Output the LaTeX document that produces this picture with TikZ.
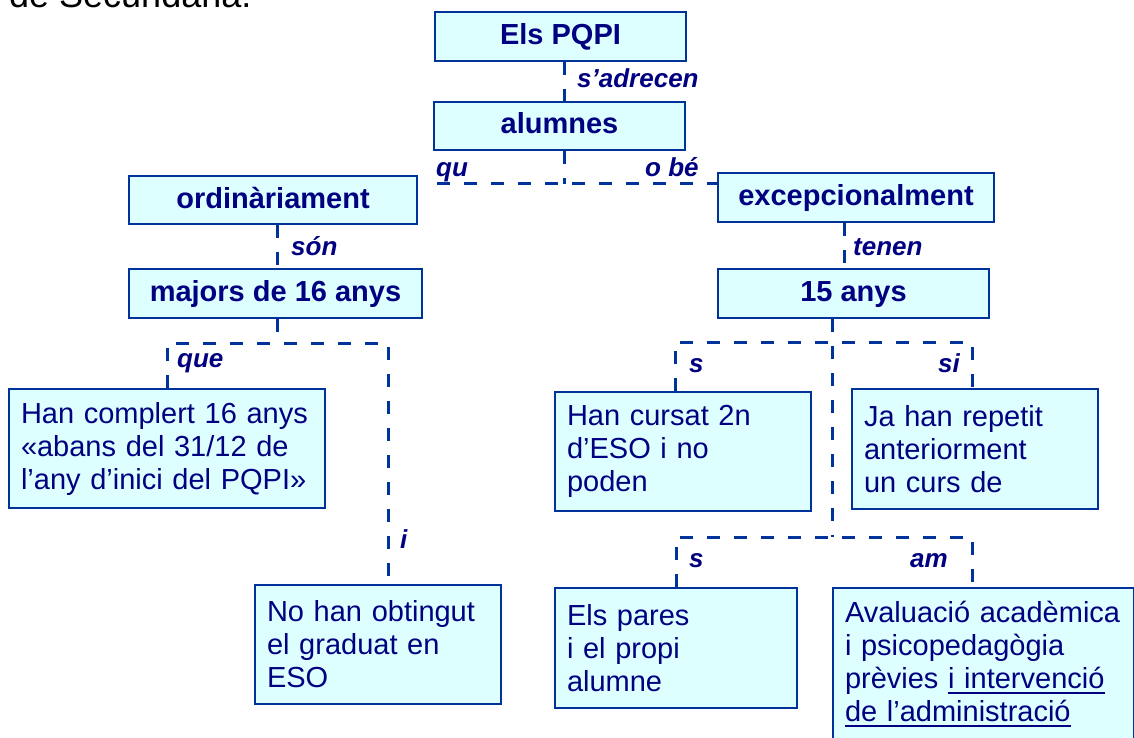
\documentclass[tikz,border=0pt]{standalone}
\usepackage{fontspec}
\setmainfont{Liberation Sans}
\definecolor{navytext}{RGB}{0,0,128}
\definecolor{boxline}{RGB}{0,51,153}
\definecolor{boxfill}{RGB}{221,255,255}
\newcommand\undl[1]{\vtop{\hbox{#1}\kern4pt\hrule height 2pt}}

\begin{document}
\begin{tikzpicture}[x=1pt,y=-1pt,
    head/.style={draw=boxline,line width=2pt,fill=boxfill,text=navytext,
      font=\fontsize{29}{33}\selectfont\bfseries,inner sep=0pt,
      text height=21pt,text depth=5pt},
    body/.style={draw=boxline,line width=2pt,fill=boxfill,text=navytext,
      font=\fontsize{29}{33}\selectfont,align=left,anchor=north west,
      inner xsep=12pt,inner ysep=0pt},
    link/.style={draw=boxline,line width=3pt,dash pattern=on 13pt off 14pt},
    lbl/.style={text=navytext,font=\fontsize{26}{30}\selectfont\bfseries\itshape,
      inner sep=0pt,anchor=base west}]

  \useasboundingbox (0,0) rectangle (1134,738);
  \clip (0,0) rectangle (1134,738);
  \fill[white] (0,0) rectangle (1134,738);

  \node[anchor=base west,inner sep=0pt,font=\fontsize{36}{40}\selectfont]
    (Sec) at (9,8) {de Secundària.};

  \node[head, minimum width=251pt, minimum height=49pt] (PQPI)  at (560.5,36.5) {Els PQPI};
  \node[head, minimum width=251pt, minimum height=48pt] (Alum)  at (559.5,126)  {alumnes};
  \node[head, minimum width=288pt, minimum height=48pt] (Ord)   at (273,200)    {ordinàriament};
  \node[head, minimum width=293pt, minimum height=49pt] (Maj)   at (275.5,293.5) {majors de 16 anys};
  \node[head, minimum width=276pt, minimum height=49pt] (Exc)   at (856,197.5)  {excepcionalment};
  \node[head, minimum width=271pt, minimum height=49pt] (Q15)   at (853.5,293.5) {15 anys};

  \node[body, text width=292pt, minimum height=119pt] (HanC)  at (8,388)
    {Han complert 16 anys\\«abans del 31/12 de\\l’any d’inici del PQPI»};
  \node[body, text width=222pt, minimum height=119pt] (NoHan) at (254,584)
    {No han obtingut\\el graduat en\\ESO};
  \node[body, text width=232pt, minimum height=119pt] (HanS)  at (554,391)
    {Han cursat 2n\\d’ESO i no\\poden};
  \node[body, text width=222pt, minimum height=120pt] (JaH)   at (851,388)
    {Ja han repetit\\anteriorment\\un curs de};
  \node[body, text width=218pt, minimum height=120pt] (Pares) at (554,587)
    {Els pares\\i el propi\\alumne};
  \node[body, text width=277pt, minimum height=152pt] (Aval)  at (832,587)
    {Avaluació acadèmica\\i psicopedagògia\\prèvies \undl{i intervenció}\\\undl{de l’administració}};

  \coordinate (J0) at (437,184);
  \coordinate (J1) at (564,184);
  \coordinate (J2) at (277,343);
  \coordinate (J3) at (388,343);
  \coordinate (K1) at (844,245);
  \coordinate (K2) at (832.5,342);
  \coordinate (K3) at (675,342);
  \coordinate (K4) at (972,342);
  \coordinate (K5) at (832.5,537);
  \coordinate (K7) at (972,537);

  \draw[link] (PQPI.south -| J1) -- (Alum.north -| J1);
  \draw[link] (Alum.south -| J1) -- (J1);
  \draw[link] (J0) -- (Exc.west |- J1);
  \draw[link] (Ord.south -| J2) -- (Maj.north -| J2);
  \draw[link] (Maj.south -| J2) -- (J2);
  \draw[link] (HanC.north) |- (J3) -- (NoHan.north -| J3);
  \draw[link] (Exc.south -| K1) -- (Q15.north -| K1);
  \draw[link] (Q15.south -| K2) -- (K2) -- (K5);
  \draw[link] (HanS.north -| K3) -- (K3) -- (K4) -- (JaH.north -| K4);
  \draw[link] (Pares.north) |- (K7) -- (Aval.north -| K7);

  \node[lbl] (adrecen) at (577,88)  {s’adrecen};
  \node[lbl] (qu)      at (436,177) {qu};
  \node[lbl] (obe)     at (645,177) {o bé};
  \node[lbl] (son)     at (291,255) {són};
  \node[lbl] (tenen)   at (853,255) {tenen};
  \node[lbl] (que)     at (177,367) {que};
  \node[lbl] (i)       at (400,548) {i};
  \node[lbl] (s1)      at (689,372) {s};
  \node[lbl] (si)      at (938,372) {si};
  \node[lbl] (s2)      at (689,567) {s};
  \node[lbl] (am)      at (910,567) {am};

\end{tikzpicture}
\end{document}
